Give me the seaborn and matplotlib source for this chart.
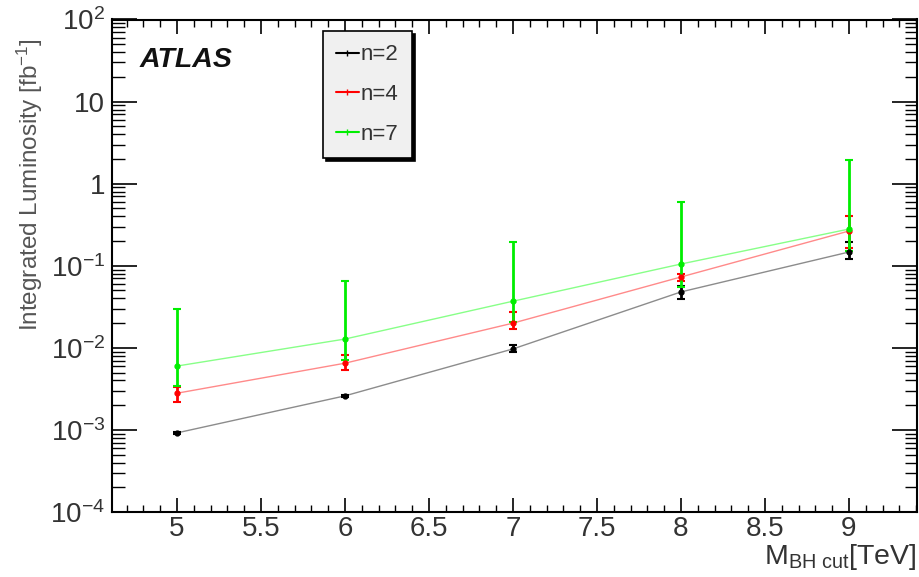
import numpy as np
import pandas as pd
import seaborn as sns
import matplotlib
matplotlib.use("Agg")
import matplotlib.pyplot as plt
from matplotlib.ticker import FixedLocator, MultipleLocator, LogLocator, NullFormatter
from matplotlib.lines import Line2D

# ---- data ----
mass = [5, 6, 7, 8, 9]
lumi_n2 = [0.00092, 0.0026, 0.0097, 0.048, 0.147]
lumi_n2_up = [0.00095, 0.0027, 0.0108, 0.057, 0.195]
lumi_n2_lo = [0.00089, 0.0025, 0.0088, 0.039, 0.121]
lumi_n4 = [0.0028, 0.0065, 0.020, 0.073, 0.265]
lumi_n4_up = [0.0033, 0.0082, 0.027, 0.080, 0.40]
lumi_n4_lo = [0.0022, 0.0054, 0.017, 0.066, 0.165]
lumi_n7 = [0.0060, 0.0128, 0.037, 0.105, 0.28]
lumi_n7_up = [0.030, 0.065, 0.195, 0.60, 1.95]
lumi_n7_lo = [0.0034, 0.0071, 0.0207, 0.055, 0.15]
series_labels = ["n=2", "n=4", "n=7"]
x_ticks = [5, 5.5, 6, 6.5, 7, 7.5, 8, 8.5, 9]
y_ticks = [1e-4, 1e-3, 1e-2, 1e-1, 1, 10, 100]
y_tick_labels = ["10$^{-4}$", "10$^{-3}$", "10$^{-2}$", "10$^{-1}$", "1", "10", "10$^{2}$"]

rows = []
for lab, v, up, lo in zip(series_labels,
                          [lumi_n2, lumi_n4, lumi_n7],
                          [lumi_n2_up, lumi_n4_up, lumi_n7_up],
                          [lumi_n2_lo, lumi_n4_lo, lumi_n7_lo]):
    for m, a, u, l in zip(mass, v, up, lo):
        rows.append({"mass": m, "lumi": a, "up": u, "lo": l, "n": lab})
df = pd.DataFrame(rows)

sns.set_theme(style="white")
plt.rcParams['font.family'] = ['Liberation Sans', 'DejaVu Sans']
plt.rcParams['mathtext.fontset'] = 'custom'
plt.rcParams['mathtext.rm'] = 'Liberation Sans'
plt.rcParams['mathtext.it'] = 'Liberation Sans:italic'
plt.rcParams['mathtext.bf'] = 'Liberation Sans:bold'

fig = plt.figure(figsize=(9.2, 5.77), dpi=100)
ax = fig.add_axes([112/920, 1 - 512/577, (917 - 112)/920, (512 - 19.5)/577])

line_colors = {"n=2": "#8c8c8c", "n=4": "#ff8a8a", "n=7": "#88ff88"}
err_colors = {"n=2": "#000000", "n=4": "#ff0000", "n=7": "#00ee00"}

sns.lineplot(data=df, x="mass", y="lumi", hue="n", palette=line_colors,
             linewidth=1.0, legend=False, ax=ax, estimator=None)

for lab in series_labels:
    d = df[df["n"] == lab]
    yerr = np.vstack([d["lumi"] - d["lo"], d["up"] - d["lumi"]])
    ax.errorbar(d["mass"], d["lumi"], yerr=yerr, fmt="o", ms=3.5,
                color=err_colors[lab], ecolor=err_colors[lab], elinewidth=2,
                capsize=3, capthick=1.5, zorder=3)

ax.set_yscale("log")
ax.set_xlim(4.613, 9.405)
ax.set_ylim(1e-4, 1e2)

ax.xaxis.set_major_locator(FixedLocator(x_ticks))
ax.xaxis.set_minor_locator(MultipleLocator(0.1))
ax.set_xticklabels([f"{t:g}" for t in x_ticks])
ax.yaxis.set_major_locator(FixedLocator(y_ticks))
ax.yaxis.set_minor_locator(LogLocator(base=10, subs=np.arange(2, 10), numticks=20))
ax.yaxis.set_minor_formatter(NullFormatter())
ax.set_yticklabels(y_tick_labels)

ax.tick_params(axis="both", which="both", direction="in", top=True, right=True,
               bottom=True, left=True, colors="black", labelcolor="#333333",
               labelsize=20)
ax.tick_params(axis="x", which="major", length=10, width=1.2, pad=3)
ax.tick_params(axis="x", which="minor", length=5, width=1.0)
ax.tick_params(axis="y", which="major", length=18, width=1.2, pad=5)
ax.tick_params(axis="y", which="minor", length=9, width=1.0)
for s in ax.spines.values():
    s.set_visible(True)
    s.set_color("black")
    s.set_linewidth(1.5)

ax.set_xlabel("M$_{\\mathregular{BH\\ cut}}$[TeV]", fontsize=20.5, color="#333333",
              loc="right", labelpad=0)
ax.set_ylabel("Integrated Luminosity [fb$^{\\mathregular{-1}}$]", fontsize=17.5,
              color="#555555")
ax.yaxis.set_label_coords(-0.083, 0.664)

ax.text(0.034, 0.917, "ATLAS", transform=ax.transAxes, fontsize=20.5,
        fontweight="bold", fontstyle="italic", va="center", ha="left",
        color="#111111")

# legend box with shadow
handles = [Line2D([0], [0], color=err_colors[l], marker="|", ms=5, lw=1.5) for l in series_labels]
leg = ax.legend(handles, series_labels, loc="upper left",
                bbox_to_anchor=((323 - 112)/805, 1 - (31 - 19.5)/492.5),
                frameon=True, fancybox=False, shadow={"color": "black", "alpha": 1},
                fontsize=16, handlelength=1.0, handletextpad=0.1,
                labelspacing=0.85, borderpad=0.6, borderaxespad=0)
leg.get_frame().set_facecolor("#f0f0f0")
leg.get_frame().set_edgecolor("black")
leg.get_frame().set_linewidth(1.2)
for t in leg.get_texts():
    t.set_color("#333333")

fig.savefig("out.png", dpi=100)
